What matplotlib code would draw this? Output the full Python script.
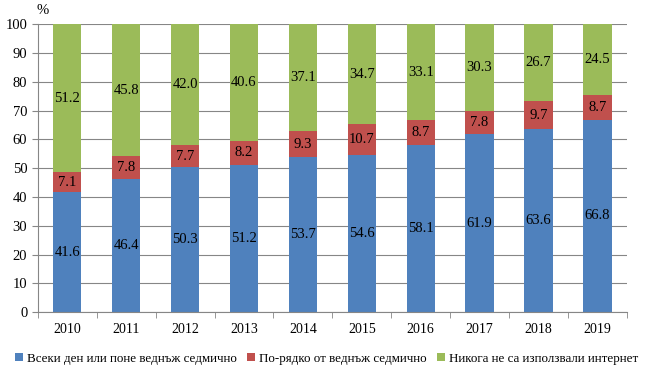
import numpy as np
import matplotlib.pyplot as plt

years = ['2010', '2011', '2012', '2013', '2014', '2015', '2016', '2017', '2018', '2019']
weekly = [41.6, 46.4, 50.3, 51.2, 53.7, 54.6, 58.1, 61.9, 63.6, 66.8]
rarely = [7.1, 7.8, 7.7, 8.2, 9.3, 10.7, 8.7, 7.8, 9.7, 8.7]
never = [51.2, 45.8, 42.0, 40.6, 37.1, 34.7, 33.1, 30.3, 26.7, 24.5]
labels = ['Всеки ден или поне веднъж седмично', 'По-рядко от веднъж седмично',
          'Никога не са използвали интернет']
colors = ['#4F81BD', '#C0504D', '#9BBB59']

plt.rcParams['font.family'] = ['Liberation Serif', 'DejaVu Serif']
fs = 10.5

fig = plt.figure(figsize=(6.51, 3.77), dpi=100)
ax = fig.add_axes([0.058, 0.172, 0.905, 0.764])

x = np.arange(len(years))
bottom = np.zeros(len(years))
for vals, c, lab in zip([weekly, rarely, never], colors, labels):
    bars = ax.bar(x, vals, 0.48, bottom=bottom, color=c, label=lab, zorder=2)
    for b, v, b0 in zip(bars, vals, bottom):
        ax.text(b.get_x() + b.get_width() / 2, b0 + v / 2, f'{v:.1f}',
                ha='center', va='center', fontsize=fs, color='black', zorder=3)
    bottom += np.array(vals)

ax.set_xlim(-0.5, len(years) - 0.5)
ax.set_ylim(0, 100)
ax.set_yticks(np.arange(0, 101, 10))
ax.set_xticks(x)
ax.set_xticklabels(years)
ax.set_xticks(np.arange(-0.5, len(years)), minor=True)
ax.tick_params(axis='x', which='major', length=0, pad=8, labelsize=fs - 0.5)
ax.tick_params(axis='x', which='minor', length=4, color='#868686')
ax.tick_params(axis='y', length=4, color='#868686', labelsize=fs)
ax.grid(axis='y', color='#868686', linewidth=0.8, zorder=0)
for s in ['top', 'right']:
    ax.spines[s].set_visible(False)
for s in ['left', 'bottom']:
    ax.spines[s].set_color('#868686')

fig.text(0.056, 0.955, '%', fontsize=fs, ha='left', va='bottom')

ax.legend(loc='upper center', bbox_to_anchor=(0.49, -0.1), ncol=3, frameon=False,
          fontsize=9.4, handlelength=0.6, handleheight=0.6, handletextpad=0.3,
          columnspacing=0.8)

fig.savefig('out.png', dpi=100)
